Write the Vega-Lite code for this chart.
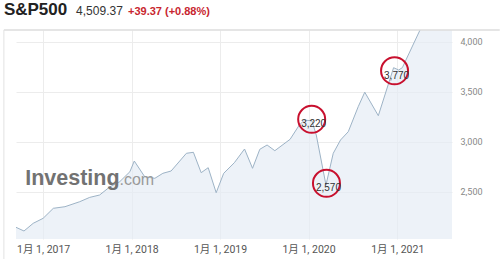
{
  "$schema": "https://vega.github.io/schema/vega-lite/v6.json",
  "width": 436,
  "height": 209,
  "autosize": "none",
  "padding": {"left": 16, "top": 30, "right": 48, "bottom": 20},
  "background": "#ffffff",
  "config": {"view": {"stroke": null}},
  "datasets": {
    "spx": [
      {"date": "2016-09-11", "value": 2144},
      {"date": "2016-10-14", "value": 2107},
      {"date": "2016-11-21", "value": 2184},
      {"date": "2017-01-01", "value": 2234},
      {"date": "2017-02-12", "value": 2334},
      {"date": "2017-04-01", "value": 2350},
      {"date": "2017-06-01", "value": 2400},
      {"date": "2017-07-12", "value": 2443},
      {"date": "2017-08-22", "value": 2467},
      {"date": "2017-10-04", "value": 2550},
      {"date": "2017-11-13", "value": 2600},
      {"date": "2017-12-25", "value": 2700},
      {"date": "2018-01-12", "value": 2807},
      {"date": "2018-02-24", "value": 2650},
      {"date": "2018-04-07", "value": 2634},
      {"date": "2018-05-10", "value": 2684},
      {"date": "2018-06-13", "value": 2707},
      {"date": "2018-08-15", "value": 2884},
      {"date": "2018-09-13", "value": 2894},
      {"date": "2018-10-15", "value": 2690},
      {"date": "2018-11-13", "value": 2740},
      {"date": "2018-12-16", "value": 2490},
      {"date": "2019-01-16", "value": 2684},
      {"date": "2019-03-01", "value": 2790},
      {"date": "2019-04-12", "value": 2927},
      {"date": "2019-05-15", "value": 2734},
      {"date": "2019-06-14", "value": 2924},
      {"date": "2019-07-14", "value": 2967},
      {"date": "2019-08-15", "value": 2910},
      {"date": "2019-10-17", "value": 3024},
      {"date": "2019-11-24", "value": 3167},
      {"date": "2019-12-15", "value": 3215},
      {"date": "2020-01-15", "value": 3210},
      {"date": "2020-02-02", "value": 3067},
      {"date": "2020-03-13", "value": 2567},
      {"date": "2020-04-12", "value": 2884},
      {"date": "2020-05-12", "value": 3017},
      {"date": "2020-06-13", "value": 3100},
      {"date": "2020-07-24", "value": 3350},
      {"date": "2020-08-20", "value": 3495},
      {"date": "2020-10-15", "value": 3260},
      {"date": "2020-12-17", "value": 3740},
      {"date": "2021-01-07", "value": 3717},
      {"date": "2021-01-22", "value": 3740},
      {"date": "2021-04-05", "value": 4117},
      {"date": "2021-05-15", "value": 4204},
      {"date": "2021-06-15", "value": 4297},
      {"date": "2021-07-15", "value": 4395},
      {"date": "2021-08-15", "value": 4509}
    ],
    "notes": [
      {"date": "2020-01-14", "value": 3224, "label": "3,220"},
      {"date": "2020-03-15", "value": 2584, "label": "2,570"},
      {"date": "2020-12-21", "value": 3709, "label": "3,770"}
    ]
  },
  "layer": [
    {
      "data": {"name": "spx"},
      "mark": {"type": "area", "clip": true, "color": "#e5edf5", "line": {"color": "#9db3c6", "strokeWidth": 1}},
      "encoding": {
        "x": {
          "field": "date", "type": "temporal",
          "scale": {"domain": [{"year": 2016, "month": 9, "date": 11, "utc": true}, {"year": 2021, "month": 8, "date": 15, "utc": true}]},
          "axis": {
            "title": null,
            "values": [
              {"year": 2017, "month": 1, "date": 1, "utc": true},
              {"year": 2018, "month": 1, "date": 1, "utc": true},
              {"year": 2019, "month": 1, "date": 1, "utc": true},
              {"year": 2020, "month": 1, "date": 1, "utc": true},
              {"year": 2021, "month": 1, "date": 1, "utc": true}
            ],
            "labelExpr": "'1月 1, ' + utcFormat(datum.value, '%Y')",
            "labelFont": "Roboto, 'Noto Sans CJK JP', sans-serif",
            "labelFontSize": 10.5,
            "labelColor": "#555555",
            "labelPadding": 5,
            "ticks": false,
            "domain": false,
            "grid": true,
            "gridColor": "#ececec",
            "gridWidth": 1
          }
        },
        "y": {
          "field": "value", "type": "quantitative",
          "scale": {"domain": [2027, 4117], "nice": false, "zero": false},
          "axis": {
            "title": null,
            "orient": "right",
            "values": [2500, 3000, 3500, 4000],
            "labelExpr": "format(datum.value, ',')",
            "labelFont": "Roboto",
            "labelFontSize": 9,
            "labelColor": "#888888",
            "labelPadding": 8,
            "ticks": false,
            "domain": false,
            "grid": true,
            "gridColor": "#ececec",
            "gridWidth": 1
          }
        }
      }
    },
    {
      "data": {"name": "notes"},
      "mark": {"type": "point", "shape": "circle", "filled": false, "size": 729, "stroke": "#c8102e", "strokeWidth": 2, "opacity": 1},
      "encoding": {
        "x": {"field": "date", "type": "temporal"},
        "y": {"field": "value", "type": "quantitative"}
      }
    },
    {
      "data": {"name": "notes"},
      "mark": {"type": "text", "font": "Liberation Sans", "fontSize": 10, "color": "#333333", "dx": 2, "dy": 5, "baseline": "middle", "align": "center"},
      "encoding": {
        "x": {"field": "date", "type": "temporal"},
        "y": {"field": "value", "type": "quantitative"},
        "text": {"field": "label"}
      }
    },
    {
      "data": {"values": [{"t": "Investing"}]},
      "mark": {"type": "text", "clip": false, "font": "Liberation Sans", "fontWeight": "bold", "fontSize": 21.5, "color": "#727272", "align": "left", "baseline": "alphabetic"},
      "encoding": {
        "x": {"datum": {"year": 2016, "month": 10, "date": 19, "utc": true}, "type": "temporal"},
        "y": {"datum": 2567, "type": "quantitative"},
        "text": {"field": "t"}
      }
    },
    {
      "data": {"values": [{"t": ".com"}]},
      "mark": {"type": "text", "clip": false, "font": "Liberation Sans", "fontSize": 16, "color": "#9a9a9a", "align": "left", "baseline": "alphabetic"},
      "encoding": {
        "x": {"datum": {"year": 2017, "month": 11, "date": 12, "utc": true}, "type": "temporal"},
        "y": {"datum": 2567, "type": "quantitative"},
        "text": {"field": "t"}
      }
    },
    {
      "data": {"values": [{"t": "S&P500"}]},
      "mark": {"type": "text", "clip": false, "font": "Liberation Sans", "fontWeight": "bold", "fontSize": 17, "color": "#222222", "align": "left", "baseline": "alphabetic"},
      "encoding": {
        "x": {"datum": {"year": 2016, "month": 7, "date": 23, "utc": true}, "type": "temporal"},
        "y": {"datum": 4267, "type": "quantitative"},
        "text": {"field": "t"}
      }
    },
    {
      "data": {"values": [{"t": "4,509.37"}]},
      "mark": {"type": "text", "clip": false, "font": "Liberation Sans", "fontSize": 12, "color": "#333333", "align": "left", "baseline": "alphabetic"},
      "encoding": {
        "x": {"datum": {"year": 2017, "month": 5, "date": 17, "utc": true}, "type": "temporal"},
        "y": {"datum": 4267, "type": "quantitative"},
        "text": {"field": "t"}
      }
    },
    {
      "data": {"values": [{"t": "+39.37 (+0.88%)"}]},
      "mark": {"type": "text", "clip": false, "font": "Liberation Sans", "fontWeight": "bold", "fontSize": 11, "color": "#c8262f", "align": "left", "baseline": "alphabetic"},
      "encoding": {
        "x": {"datum": {"year": 2017, "month": 12, "date": 17, "utc": true}, "type": "temporal"},
        "y": {"datum": 4267, "type": "quantitative"},
        "text": {"field": "t"}
      }
    },
    {
      "data": {"values": [{"a": 1}]},
      "mark": {"type": "rule", "clip": false, "color": "#dddddd", "strokeWidth": 1.5},
      "encoding": {
        "x": {"datum": {"year": 2016, "month": 7, "date": 23, "utc": true}, "type": "temporal"},
        "x2": {"datum": {"year": 2022, "month": 2, "date": 28, "utc": true}},
        "y": {"datum": 4117, "type": "quantitative"}
      }
    },
    {
      "data": {"values": [{"a": 1}]},
      "mark": {"type": "rule", "clip": false, "color": "#e2e2e2", "strokeWidth": 1},
      "encoding": {
        "x": {"datum": {"year": 2016, "month": 7, "date": 23, "utc": true}, "type": "temporal"},
        "y": {"datum": 4117, "type": "quantitative"},
        "y2": {"datum": 1827}
      }
    }
  ]
}
